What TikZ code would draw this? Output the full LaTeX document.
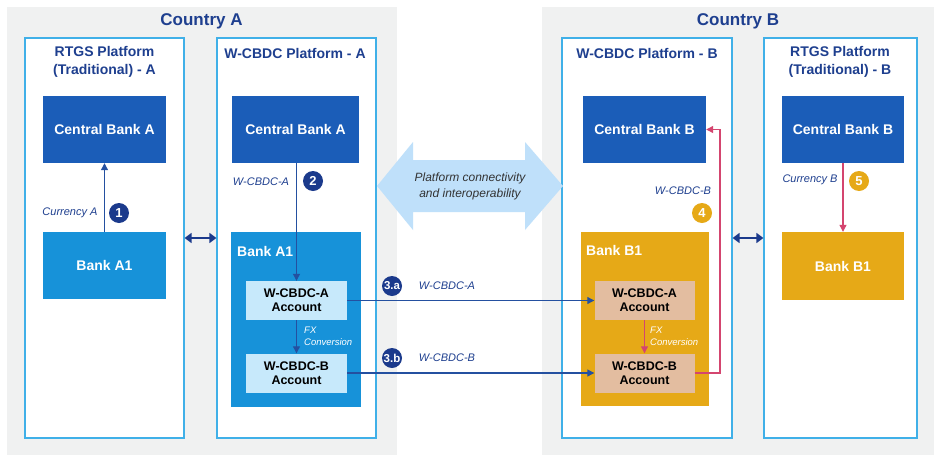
\documentclass[tikz,border=0pt]{standalone}
\usepackage{fontspec}
\setmainfont{Liberation Sans}
\usetikzlibrary{arrows.meta,calc}
\definecolor{cgray}{HTML}{F0F1F1}
\definecolor{pborder}{HTML}{40B0E8}
\definecolor{navy}{HTML}{1E3F8F}
\definecolor{cbblue}{HTML}{1B5DB8}
\definecolor{bankblue}{HTML}{1792D9}
\definecolor{accblue}{HTML}{C7E9FB}
\definecolor{gold}{HTML}{E6A917}
\definecolor{accpeach}{HTML}{E3BDA0}
\definecolor{arrblue}{HTML}{2450A0}
\definecolor{arrred}{HTML}{D4456F}
\definecolor{bigarr}{HTML}{BFE0FA}
\definecolor{circnavy}{HTML}{1B3A8C}
\definecolor{dgray}{HTML}{333333}
\begin{document}
\begin{tikzpicture}[x=1pt,y=-1pt,
  country/.style={fill=cgray, draw=none, inner sep=0pt},
  ctitle/.style={text=navy, font=\bfseries\fontsize{17}{19}\selectfont, inner sep=0pt},
  platform/.style={draw=pborder, line width=1.2pt, fill=white, inner sep=0pt},
  ptitle/.style={text=navy, font=\bfseries\fontsize{14}{18}\selectfont, align=center, inner sep=0pt},
  cbbox/.style={fill=cbblue, text=white, font=\bfseries\fontsize{14}{16}\selectfont, inner sep=0pt},
  bankbox/.style={fill=bankblue, text=white, font=\bfseries\fontsize{14}{16}\selectfont, inner sep=0pt},
  goldbox/.style={fill=gold, text=white, font=\bfseries\fontsize{14}{16}\selectfont, inner sep=0pt},
  boxlabel/.style={text=white, font=\bfseries\fontsize{14}{16}\selectfont, inner sep=0pt, anchor=west},
  accA/.style={fill=accblue, text=black, font=\bfseries\fontsize{12.5}{14}\selectfont, align=center, inner sep=0pt, minimum width=101pt, minimum height=39pt},
  accB/.style={fill=accpeach, text=black, font=\bfseries\fontsize{12.5}{14}\selectfont, align=center, inner sep=0pt, minimum width=100pt, minimum height=39pt},
  lbl/.style={text=navy, font=\itshape\fontsize{11}{13}\selectfont, inner sep=0pt},
  fxlbl/.style={text=white, font=\itshape\fontsize{9.5}{12}\selectfont, align=left, anchor=west, inner sep=0pt},
  numN/.style={circle, fill=circnavy, text=white, font=\bfseries\fontsize{13}{13}\selectfont, minimum size=20pt, inner sep=0pt},
  numG/.style={circle, fill=gold, text=white, font=\bfseries\fontsize{13}{13}\selectfont, minimum size=20pt, inner sep=0pt},
  bluearr/.style={draw=arrblue, line width=1.1pt, -{Triangle[length=7pt,width=7pt]}},
  redarr/.style={draw=arrred, line width=1.1pt, -{Triangle[length=7pt,width=7pt]}},
  dblarr/.style={draw=circnavy, line width=2.8pt, {Triangle[length=7pt,width=10pt]}-{Triangle[length=7pt,width=10pt]}}
]
\useasboundingbox (0,0) rectangle (940,461);
\fill[white] (0,0) rectangle (940,461);

% countries
\node[country, minimum width=390pt, minimum height=448pt] (ctyA) at (202,231) {};
\node[country, minimum width=392pt, minimum height=448pt] (ctyB) at (738,231) {};
\node[ctitle] (tA) at (201.5,21) {Country A};
\node[ctitle] (tB) at (738,21) {Country B};

% platforms
\node[platform, minimum width=159pt, minimum height=400pt] (pRA) at (104.5,238) {};
\node[platform, minimum width=159pt, minimum height=400pt] (pWA) at (296.5,238) {};
\node[platform, minimum width=170pt, minimum height=400pt] (pWB) at (647,238) {};
\node[platform, minimum width=153pt, minimum height=400pt] (pRB) at (840.5,238) {};
\node[ptitle] (tRA) at (104.5,61.5) {RTGS Platform\\(Traditional) - A};
\node[ptitle] (tWA) at (295,53) {W-CBDC Platform - A};
\node[ptitle] (tWB) at (647,53) {W-CBDC Platform - B};
\node[ptitle] (tRB) at (840,61.5) {RTGS Platform\\(Traditional) - B};

% big arrow
\fill[bigarr] (377,186) -- (413,142) -- (413,160) -- (525,160) -- (525,142) -- (563,186)
  -- (525,230) -- (525,212) -- (413,212) -- (413,230) -- cycle;
\node[text=dgray, font=\itshape\fontsize{12}{16}\selectfont, align=center, inner sep=0pt] (bigtxt) at (470,186) {Platform connectivity\\and interoperability};

% central banks
\node[cbbox, minimum width=123pt, minimum height=67pt] (cA) at (104.5,129.5) {Central Bank A};
\node[cbbox, minimum width=127pt, minimum height=67pt] (cAw) at (295.5,129.5) {Central Bank A};
\node[cbbox, minimum width=123pt, minimum height=67pt] (cBw) at (644.5,129.5) {Central Bank B};
\node[cbbox, minimum width=122pt, minimum height=67pt] (cBr) at (843,129.5) {Central Bank B};

% banks
\node[bankbox, minimum width=123pt, minimum height=67pt] (bA1) at (104.5,265.5) {Bank A1};
\node[goldbox, minimum width=122pt, minimum height=68pt] (bB1) at (843,266) {Bank B1};
\node[fill=bankblue, inner sep=0pt, minimum width=130pt, minimum height=175pt] (bA1c) at (296,319.5) {};
\node[fill=gold, inner sep=0pt, minimum width=128pt, minimum height=174pt] (bB1c) at (645,319) {};
\node[boxlabel] (lA1) at (237,251) {Bank A1};
\node[boxlabel] (lB1) at (586,250) {Bank B1};

% accounts
\node[accA] (aAA) at (296.5,300.5) {W-CBDC-A\\Account};
\node[accA] (aAB) at (296.5,373) {W-CBDC-B\\Account};
\node[accB] (aBA) at (644.5,300.5) {W-CBDC-A\\Account};
\node[accB] (aBB) at (644.5,373) {W-CBDC-B\\Account};

% fx labels
\node[fxlbl] (fxA) at (304,336) {FX\\Conversion};
\node[fxlbl] (fxB) at (650,336) {FX\\Conversion};

% arrows
\draw[bluearr] (bA1.north) -- (cA.south);
\draw[bluearr] (cAw.south -| aAA.north) -- (aAA.north);
\draw[bluearr] (aAA.south) -- (aAB.north);
\draw[bluearr] (aAA.east) -- (aBA.west);
\draw[bluearr] (aAB.east) -- (aBB.west);
\draw[redarr] (aBA.south) -- (aBB.north);
\draw[redarr] (cBr.south) -- (bB1.north);
\coordinate (c4) at (720,250);
\draw[redarr] (aBB.east) -| (c4) |- (cBw.east);

\coordinate (dy) at (0,238);
\draw[dblarr] (pRA.east |- dy) -- (pWA.west |- dy);
\draw[dblarr] (pWB.east |- dy) -- (pRB.west |- dy);

% labels and numbers
\node[lbl] (l1) at (70,213) {Currency A};
\node[numN] (n1) at (119,213) {1};
\node[lbl] (l2) at (261,181.5) {W-CBDC-A};
\node[numN] (n2) at (313,181) {2};
\node[numN, font=\bfseries\fontsize{11.5}{11.5}\selectfont, minimum size=20pt] (n3a) at (392,286) {3.a};
\node[lbl] (l3a) at (447,286) {W-CBDC-A};
\node[numN, font=\bfseries\fontsize{11.5}{11.5}\selectfont, minimum size=20pt] (n3b) at (392,358) {3.b};
\node[lbl] (l3b) at (447,358) {W-CBDC-B};
\node[lbl] (l4) at (683,191) {W-CBDC-B};
\node[numG] (n4) at (702,213) {4};
\node[lbl] (l5) at (810,180) {Currency B};
\node[numG] (n5) at (859,181) {5};
\end{tikzpicture}
\end{document}
